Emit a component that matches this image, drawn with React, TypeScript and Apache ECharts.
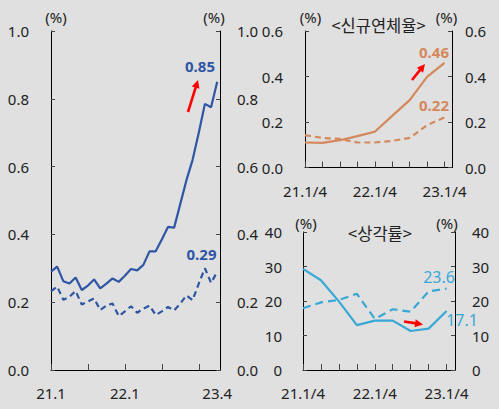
import React, { useEffect, useRef } from "react";
import * as echarts from "echarts";

const monthLabels = [
  "21.1", "21.2", "21.3", "21.4", "21.5", "21.6", "21.7", "21.8", "21.9", "21.10", "21.11", "21.12",
  "22.1", "22.2", "22.3", "22.4", "22.5", "22.6", "22.7", "22.8", "22.9", "22.10", "22.11", "22.12",
  "23.1", "23.2", "23.3", "23.4",
];
const monthTickIdx = [0, 6, 12, 18, 24];
const monthLabelIdx = [0, 12, 27];
const delinqSolid = [
  0.29, 0.305, 0.262, 0.255, 0.273, 0.236, 0.249, 0.267, 0.241, 0.255, 0.27, 0.26,
  0.278, 0.298, 0.294, 0.31, 0.35, 0.35, 0.385, 0.422, 0.42, 0.49, 0.56, 0.62,
  0.7, 0.785, 0.775, 0.85,
];
const delinqDashed = [
  0.232, 0.246, 0.207, 0.216, 0.233, 0.193, 0.202, 0.211, 0.177, 0.19, 0.196, 0.159,
  0.173, 0.188, 0.169, 0.181, 0.19, 0.162, 0.173, 0.186, 0.176, 0.196, 0.22, 0.206,
  0.255, 0.3, 0.257, 0.29,
];

const quarterLabels = ["21.1/4", "21.2/4", "21.3/4", "21.4/4", "22.1/4", "22.2/4", "22.3/4", "22.4/4", "23.1/4"];
const quarterTickIdx = [0, 1, 2, 3, 4, 5, 6, 7, 8];
const quarterLabelIdx = [0, 4, 8];
const newDelinqSolid = [0.11, 0.108, 0.12, 0.138, 0.157, 0.227, 0.296, 0.398, 0.46];
const newDelinqDashed = [0.142, 0.13, 0.126, 0.11, 0.11, 0.117, 0.13, 0.186, 0.22];
const writeOffSolid = [29.3, 26, 19.9, 13, 14.3, 14.3, 11.3, 12, 17.1];
const writeOffDashed = [17.9, 19.6, 20.3, 22.1, 14.8, 17.6, 16.9, 22.8, 23.6];

const BG = "#dfe0df";
const BLUE = "#2f56a4";
const ORANGE = "#d4885c";
const CYAN = "#3aa8d7";
const RED = "#ff0000";
const TXT = "#222222";
const FONT = '"Noto Sans", "Noto Sans CJK KR", sans-serif';
const KFONT = '"Noto Sans CJK KR", "Noto Sans", sans-serif';

function xAxisDef(grid: number, max: number, labels: string[], ticks: number[], shown: number[], margin: number) {
  return {
    type: "value",
    gridIndex: grid,
    min: 0,
    max,
    axisLine: { show: true, lineStyle: { color: "#000", width: 1 } },
    axisTick: { show: true, inside: true, length: 6, customValues: ticks, lineStyle: { color: "#444", width: 1 } },
    axisLabel: {
      show: true,
      customValues: shown,
      formatter: (v: number) => labels[Math.round(v)] ?? "",
      margin,
      fontSize: 15,
      color: TXT,
      fontFamily: FONT,
    },
    splitLine: { show: false },
  };
}

function yAxisDef(grid: number, pos: string, max: number, interval: number, margin: number, dec: number) {
  return {
    type: "value",
    gridIndex: grid,
    position: pos,
    min: 0,
    max,
    interval,
    axisLine: { show: true, onZero: false, lineStyle: { color: "#000", width: 1 } },
    axisTick: { show: true, inside: true, length: 4, lineStyle: { color: "#444", width: 1 } },
    axisLabel: {
      show: true,
      margin,
      fontSize: 15,
      color: TXT,
      fontFamily: FONT,
      formatter: (v: number) => v.toFixed(dec),
    },
    splitLine: { show: false },
  };
}

function lineSeries(xi: number, yi: number, values: number[], color: string, dashed: number[] | null) {
  return {
    type: "line",
    xAxisIndex: xi,
    yAxisIndex: yi,
    data: values.map((v, i) => [i, v]),
    symbol: "none",
    showSymbol: false,
    lineStyle: { color, width: 2.2, type: dashed ? dashed : "solid" },
    z: 3,
  };
}

function text(x: number, y: number, s: string, opts: any = {}) {
  return {
    type: "text",
    x,
    y,
    z: 10,
    style: {
      text: s,
      fill: opts.fill ?? TXT,
      font: `${opts.weight ?? "normal"} ${opts.size ?? 15}px ${opts.family ?? FONT}`,
      textAlign: opts.align ?? "center",
      textVerticalAlign: "middle",
    },
  };
}

function arrow(x1: number, y1: number, x2: number, y2: number) {
  const dx = x2 - x1;
  const dy = y2 - y1;
  const len = Math.sqrt(dx * dx + dy * dy);
  const ux = dx / len;
  const uy = dy / len;
  const headL = 8;
  const headW = 4;
  const bx = x2 - ux * headL;
  const by = y2 - uy * headL;
  return [
    {
      type: "line",
      z: 10,
      shape: { x1, y1, x2: bx + ux, y2: by + uy },
      style: { stroke: RED, lineWidth: 2.6 },
    },
    {
      type: "polygon",
      z: 10,
      shape: {
        points: [
          [x2, y2],
          [bx - uy * headW, by + ux * headW],
          [bx + uy * headW, by - ux * headW],
        ],
      },
      style: { fill: RED },
    },
  ];
}

export default function App() {
  const ref = useRef<HTMLDivElement>(null);
  useEffect(() => {
    if (!ref.current) return;
    const chart = echarts.init(ref.current, null, { renderer: "svg" });
    const option: any = {
      animation: false,
      backgroundColor: BG,
      grid: [
        { left: 51, top: 31, width: 169, height: 339 },
        { left: 305, top: 31, width: 147, height: 136.5 },
        { left: 303, top: 232, width: 152, height: 138 },
      ],
      xAxis: [
        xAxisDef(0, 27.45, monthLabels, monthTickIdx, monthLabelIdx, 15),
        xAxisDef(1, 8.43, quarterLabels, quarterTickIdx, quarterLabelIdx, 16),
        xAxisDef(2, 8.47, quarterLabels, quarterTickIdx, quarterLabelIdx, 15),
      ],
      yAxis: [
        yAxisDef(0, "left", 1, 0.2, 22, 1),
        yAxisDef(0, "right", 1, 0.2, 17, 1),
        yAxisDef(1, "left", 0.6, 0.2, 22, 1),
        yAxisDef(1, "right", 0.6, 0.2, 13, 1),
        yAxisDef(2, "left", 40, 10, 21, 0),
        yAxisDef(2, "right", 40, 10, 17, 0),
      ],
      series: [
        lineSeries(0, 0, delinqSolid, BLUE, null),
        lineSeries(0, 0, delinqDashed, BLUE, [6, 4]),
        lineSeries(1, 2, newDelinqSolid, ORANGE, null),
        lineSeries(1, 2, newDelinqDashed, ORANGE, [6, 4]),
        lineSeries(2, 4, writeOffSolid, CYAN, null),
        lineSeries(2, 4, writeOffDashed, CYAN, [8, 5]),
      ],
      graphic: [
        text(56, 17, "(%)"),
        text(214, 17, "(%)"),
        text(310.5, 17, "(%)"),
        text(446.5, 17, "(%)"),
        text(378.5, 25, "<신규연체율>", { family: KFONT, size: 16.5 }),
        text(306, 223, "(%)"),
        text(447, 223, "(%)"),
        text(380, 233, "<상각률>", { family: KFONT, size: 16.5 }),
        text(200, 66, delinqSolid[delinqSolid.length - 1].toFixed(2), { fill: BLUE, weight: "bold" }),
        text(201.5, 254, delinqDashed[delinqDashed.length - 1].toFixed(2), { fill: BLUE, weight: "bold" }),
        text(434, 52, newDelinqSolid[newDelinqSolid.length - 1].toFixed(2), { fill: ORANGE, weight: "bold" }),
        text(434, 105, newDelinqDashed[newDelinqDashed.length - 1].toFixed(2), { fill: ORANGE, weight: "bold" }),
        text(439, 277, writeOffDashed[writeOffDashed.length - 1].toFixed(1), { fill: CYAN, size: 16 }),
        text(462, 320, writeOffSolid[writeOffSolid.length - 1].toFixed(1), { fill: CYAN, size: 16 }),
        ...arrow(188, 112, 198, 80),
        ...arrow(412, 80, 425, 64),
        ...arrow(404, 321.5, 423, 324.5),
      ],
    };
    chart.setOption(option);
    return () => chart.dispose();
  }, []);
  return (
    <div
      ref={ref}
      style={{ position: "absolute", left: 0, top: 0, width: 499, height: 409, background: BG }}
    />
  );
}
